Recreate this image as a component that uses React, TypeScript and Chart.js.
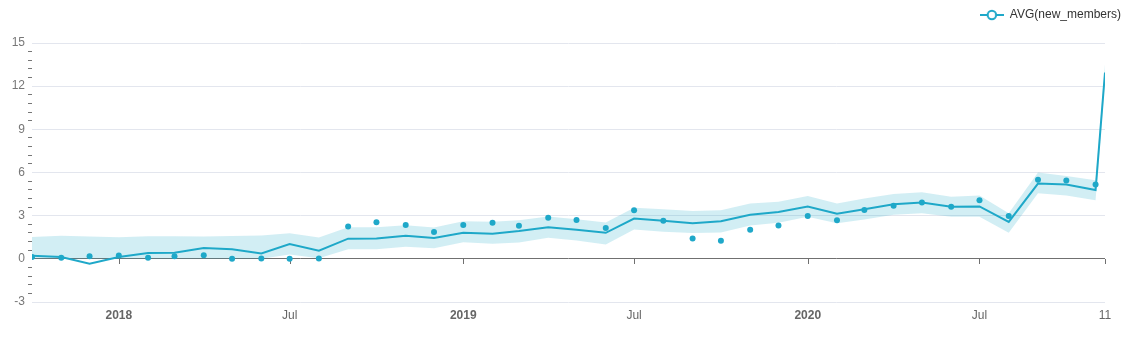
import React, { useEffect, useRef } from "react";
import { Chart, registerables } from "chart.js";

Chart.register(...registerables);

const startDate = "2017-10-01";
const dates = [
  "2017-10-01", "2017-11-01", "2017-12-01",
  "2018-01-01", "2018-02-01", "2018-03-01", "2018-04-01", "2018-05-01", "2018-06-01",
  "2018-07-01", "2018-08-01", "2018-09-01", "2018-10-01", "2018-11-01", "2018-12-01",
  "2019-01-01", "2019-02-01", "2019-03-01", "2019-04-01", "2019-05-01", "2019-06-01",
  "2019-07-01", "2019-08-01", "2019-09-01", "2019-10-01", "2019-11-01", "2019-12-01",
  "2020-01-01", "2020-02-01", "2020-03-01", "2020-04-01", "2020-05-01", "2020-06-01",
  "2020-07-01", "2020-08-01", "2020-09-01", "2020-10-01", "2020-11-01", "2020-11-11",
];

const actual = [
  0.13, 0.08, 0.18,
  0.23, 0.08, 0.18, 0.25, 0.01, 0.02, 0.0, 0.03, 2.24, 2.54, 2.35, 1.87,
  2.36, 2.5, 2.3, 2.85, 2.7, 2.15, 3.38, 2.64, 1.42, 1.26, 2.02, 2.32,
  2.97, 2.69, 3.39, 3.69, 3.92, 3.62, 4.08, 2.98, 5.5, 5.44, 5.17, null,
];

const trend = [
  0.21, 0.12, -0.34,
  0.12, 0.41, 0.42, 0.75, 0.66, 0.37, 1.03, 0.57, 1.4, 1.42, 1.6, 1.45,
  1.82, 1.75, 1.93, 2.2, 2.02, 1.81, 2.8, 2.64, 2.47, 2.61, 3.07, 3.25,
  3.64, 3.13, 3.44, 3.79, 3.92, 3.62, 3.64, 2.57, 5.23, 5.17, 4.78, 12.95,
];

const upper = [
  1.51, 1.6, 1.55,
  1.5, 1.57, 1.57, 1.55, 1.58, 1.62, 1.77, 1.49, 2.19, 2.2, 2.34, 2.18,
  2.62, 2.58, 2.69, 2.94, 2.75, 2.53, 3.55, 3.45, 3.32, 3.37, 3.85, 3.97,
  4.36, 3.85, 4.2, 4.5, 4.62, 4.31, 4.4, 3.16, 6.0, 5.75, 5.47, 13.5,
];

const lower = [
  0.0, 0.0, 0.0,
  0.0, 0.0, 0.0, 0.0, 0.0, 0.0, 0.3, 0.04, 0.66, 0.66, 0.84, 0.73,
  1.16, 1.05, 1.13, 1.46, 1.27, 0.99, 2.04, 1.88, 1.79, 1.83, 2.32, 2.5,
  2.93, 2.47, 2.74, 3.06, 3.17, 2.93, 2.93, 1.81, 4.55, 4.4, 4.08, 12.4,
];

const tickDates = ["2018-01-01", "2018-07-01", "2019-01-01", "2019-07-01", "2020-01-01", "2020-07-01", "2020-11-11"];
const tickLabels = ["2018", "Jul", "2019", "Jul", "2020", "Jul", "11"];

const seriesName = "AVG(new_members)";
const COLOR = "#1FA8C9";
const BAND = "rgba(31,168,201,0.2)";
const FONT = "'Liberation Sans', Arial, sans-serif";

const dayOf = (d: string) => (Date.parse(d) - Date.parse(startDate)) / 86400000;
const xs = dates.map(dayOf);
const tickDays = tickDates.map(dayOf);
const pts = (arr: (number | null)[]) => arr.map((v, i) => ({ x: xs[i], y: v }));

const isMajor = (v: number) => Math.abs(v / 3 - Math.round(v / 3)) < 1e-6;

const zeroAxisTicks = {
  id: "zeroAxisTicks",
  beforeDatasetsDraw(chart: any) {
    const { ctx } = chart;
    const xScale = chart.scales.x;
    const y0 = chart.scales.y.getPixelForValue(0);
    ctx.save();
    ctx.strokeStyle = "#707070";
    ctx.lineWidth = 1;
    for (const t of xScale.ticks) {
      const px = Math.round(xScale.getPixelForValue(t.value)) + 0.5;
      ctx.beginPath();
      ctx.moveTo(px, Math.round(y0));
      ctx.lineTo(px, Math.round(y0) + 5);
      ctx.stroke();
    }
    ctx.restore();
  },
};

const legendHeight = {
  id: "legendHeight",
  beforeLayout(chart: any) {
    const lg = chart.legend;
    if (lg && !lg._patchedFit) {
      const orig = lg.fit.bind(lg);
      lg.fit = function () {
        orig();
        this.height = 35;
      };
      lg._patchedFit = true;
    }
  },
};

function makeIcon() {
  const c = document.createElement("canvas");
  c.width = 24;
  c.height = 12;
  const g = c.getContext("2d")!;
  g.strokeStyle = COLOR;
  g.lineWidth = 2;
  g.beginPath();
  g.moveTo(0, 6);
  g.lineTo(24, 6);
  g.stroke();
  g.beginPath();
  g.arc(12, 6, 4.2, 0, Math.PI * 2);
  g.fillStyle = "#fff";
  g.fill();
  g.stroke();
  return c;
}

export default function App() {
  const ref = useRef<HTMLCanvasElement | null>(null);
  useEffect(() => {
    if (!ref.current) return;
    const icon = makeIcon();
    const chart = new Chart(ref.current, {
      type: "line",
      data: {
        datasets: [
          {
            label: "upper",
            data: pts(upper),
            borderWidth: 0,
            borderColor: "transparent",
            pointRadius: 0,
            backgroundColor: BAND,
            fill: "+1",
          },
          {
            label: "lower",
            data: pts(lower),
            borderWidth: 0,
            borderColor: "transparent",
            pointRadius: 0,
            fill: false,
          },
          {
            label: seriesName,
            data: pts(trend),
            borderColor: COLOR,
            borderWidth: 2,
            pointRadius: 0,
            fill: false,
          },
          {
            label: "actual",
            data: pts(actual),
            showLine: false,
            pointRadius: 3,
            pointBackgroundColor: COLOR,
            pointBorderColor: COLOR,
            pointBorderWidth: 0,
            fill: false,
          },
        ],
      },
      options: {
        animation: false,
        responsive: true,
        maintainAspectRatio: false,
        layout: { padding: 0 },
        plugins: {
          tooltip: { enabled: false },
          legend: {
            position: "top",
            align: "end",
            labels: {
              usePointStyle: true,
              pointStyleWidth: 24,
              padding: 1,
              color: "#333",
              font: { family: FONT, size: 12 },
              generateLabels: () => [
                {
                  text: seriesName,
                  pointStyle: icon as any,
                  fillStyle: COLOR,
                  strokeStyle: COLOR,
                  lineWidth: 0,
                  hidden: false,
                  datasetIndex: 2,
                  fontColor: "#333",
                } as any,
              ],
            },
          },
        },
        scales: {
          x: {
            type: "linear",
            min: 0,
            max: tickDays[tickDays.length - 1],
            border: { display: false },
            grid: { display: false, drawTicks: false },
            afterBuildTicks: (scale: any) => {
              scale.ticks = tickDays.map((v) => ({ value: v }));
            },
            afterFit: (scale: any) => {
              scale.height = 30;
              scale.paddingRight = 17;
            },
            ticks: {
              autoSkip: false,
              maxRotation: 0,
              padding: 6,
              color: "#666",
              callback: (_v: any, i: number) => tickLabels[i],
              font: (ctx: any) => ({
                family: FONT,
                size: 12,
                weight: /^\d{4}$/.test(ctx.tick?.label ?? "") ? "bold" : "normal",
              }),
            },
          },
          y: {
            min: -3,
            max: 15,
            border: { display: false },
            afterFit: (scale: any) => {
              scale.width = 24;
            },
            grid: {
              drawTicks: true,
              tickLength: 4,
              lineWidth: 1,
              color: (ctx: any) => {
                const v = ctx.tick?.value ?? 0;
                if (Math.abs(v) < 1e-6) return "#707070";
                return isMajor(v) ? "#e3e6ee" : "transparent";
              },
              tickColor: (ctx: any) => {
                const v = ctx.tick?.value ?? 0;
                return isMajor(v) ? "transparent" : "#777";
              },
            },
            ticks: {
              stepSize: 0.6,
              autoSkip: false,
              padding: 3,
              color: "#777",
              font: { family: FONT, size: 12 },
              callback: (v: any) => (isMajor(Number(v)) ? String(Math.round(Number(v))) : ""),
            },
          },
        },
      },
      plugins: [zeroAxisTicks, legendHeight],
    });
    return () => chart.destroy();
  }, []);
  return (
    <div style={{ position: "relative", width: "100%", height: 324 }}>
      <canvas ref={ref} style={{ display: "block" }} />
    </div>
  );
}
